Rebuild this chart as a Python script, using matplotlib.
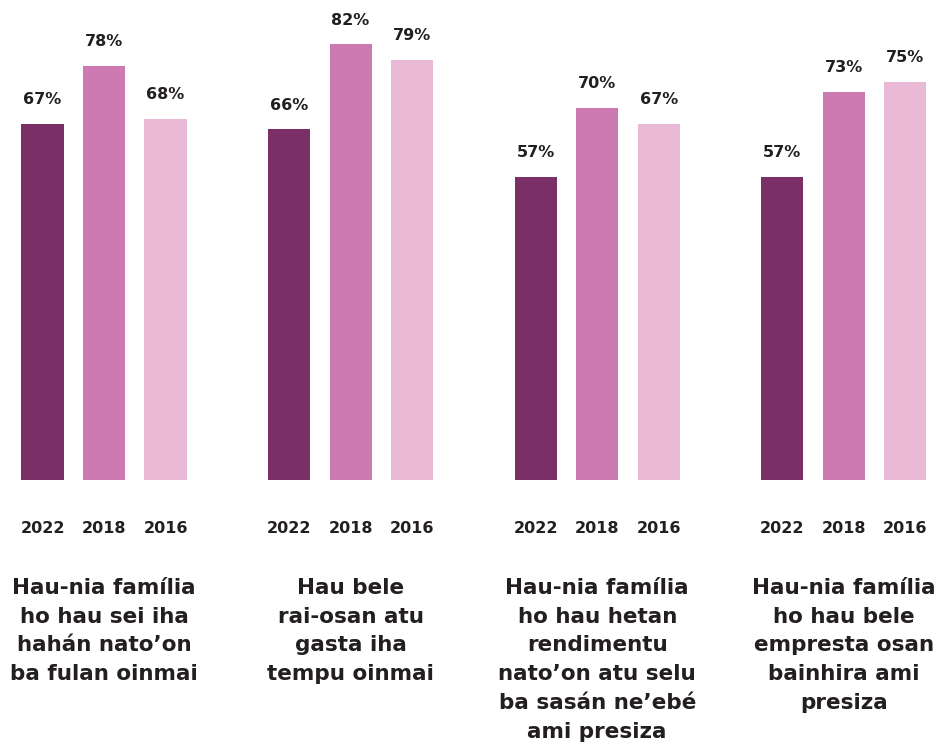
import numpy as np
import matplotlib.pyplot as plt

years = ['2022', '2018', '2016']
categories = [
    'Hau-nia família\nho hau sei iha\nhahán nato’on\nba fulan oinmai',
    'Hau bele\nrai-osan atu\ngasta iha\ntempu oinmai',
    'Hau-nia família\nho hau hetan\nrendimentu\nnato’on atu selu\nba sasán ne’ebé\nami presiza',
    'Hau-nia família\nho hau bele\nempresta osan\nbainhira ami\npresiza',
]
values = {
    '2022': [67, 66, 57, 57],
    '2018': [78, 82, 70, 73],
    '2016': [68, 79, 67, 75],
}
colors = ['#7a2f66', '#cc7ab1', '#eab9d6']
text_color = '#231f20'

plt.rcParams['font.family'] = ['DejaVu Sans']

fig = plt.figure(figsize=(9.41, 7.47), dpi=100)
# axes bottom at y=480px from top, 5.31 px per percent
ax = fig.add_axes([0, 1 - 480 / 747, 1, 478 / 747])
ax.set_ylim(0, 90)
ax.set_xlim(-104 / 61.5, (941 - 104) / 61.5)
ax.axis('off')

group_x = np.arange(len(categories)) * 4.01
for i, yr in enumerate(years):
    xs = group_x + (i - 1)
    ax.bar(xs, values[yr], width=0.683, color=colors[i])
    for x, v in zip(xs, values[yr]):
        ax.text(x, v + 4.6, f'{v}%', ha='center', va='center', fontsize=11.5,
                fontweight='bold', color=text_color)
        ax.text(x, -9.2, yr, ha='center', va='center', fontsize=11.5,
                fontweight='bold', color=text_color, clip_on=False)

for gx, cat in zip(group_x, categories):
    ax.text(gx, -18.4, cat, ha='center', va='top', fontsize=15.5,
            fontweight='bold', color=text_color, linespacing=1.55, clip_on=False)

fig.savefig('out.png', dpi=100, facecolor='white')
